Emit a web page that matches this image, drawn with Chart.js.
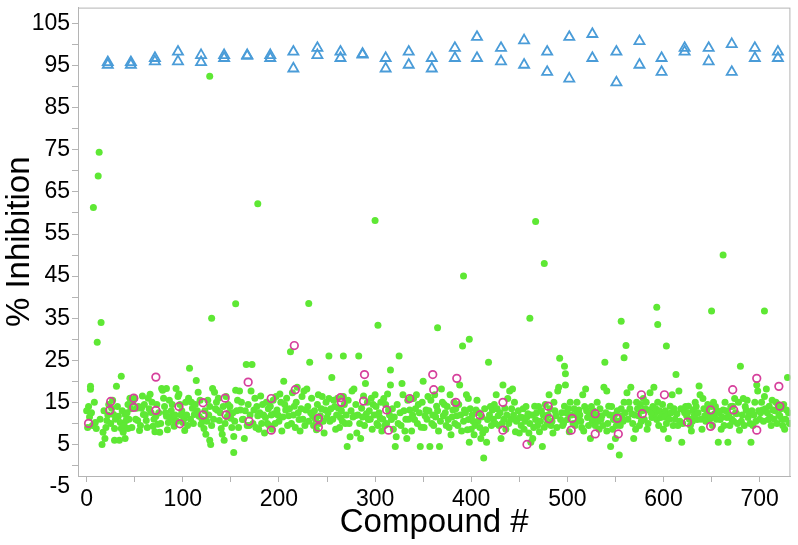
<!DOCTYPE html>
<html>
<head>
<meta charset="utf-8">
<script src="https://cdn.jsdelivr.net/npm/chart.js@4"></script>
<style>
body{margin:0;background:#fff}
</style>
</head>
<body>
<canvas id="chart" width="798" height="545"></canvas>
<script>
// [compound #, % inhibition]
const compounds=[
[4,18.8],[4,18.1],[2,14],[9,10.2],[10,8.8],[16,5],[17,7.9],[19,6.4],[21,10.7],[26,13.6],[28,12.1],[29,8.8],[29,6],[31,18.8],[36,21.2],[33,11.7],[35,10.2],[36,8.8],[38,7.9],[40,6.4],[34,6],[41,10.7],[43,8.8],[40,12.1],[45,16],[43,14.5],
[50,16],[52,13.6],[53,10.7],[55,8.3],[57,13.6],[59,12.1],[60,14.5],[62,10.7],[64,16],[66,16.9],[67,12.6],[69,9.3],[72,11.7],[74,9.8],[76,7.9],[78,18.3],[79,17.9],[83,18.3],[81,14],[83,11.7],[85,10.2],[86,15.5],[88,13],[90,10.7],[91,9.3],[93,18.3],[95,16.4],[97,14.5],[98,12],[100,10.2],
[102,8.3],[107,23.1],[109,15],[110,13.6],[112,12.1],[114,20.2],[116,17.4],[117,11.7],[119,9.8],[122,8.8],[124,7.4],[128,6],[129,5],[126,15.5],[128,14],[131,18.3],[133,17.4],[135,15],[136,13.1],[138,10.7],[140,8.8],[141,7.4],[143,6],[145,16.4],[147,14.5],[148,12.6],[150,11.2],[153,6.9],[153,3.1],[155,17.9],[157,15.5],
[159,17.7],[160,13.2],[162,10.9],[164,6.4],[166,24],[172,24],[169,9.5],[171,17.7],[174,13.2],[178,11.8],[179,8.6],[183,14.5],[185,7.7],[186,11.4],[188,10],[191,14.1],[193,8.6],[195,12.3],[197,16.4],[198,13.2],[200,10.5],
[202,15],[203,8.2],[205,20],[207,13.2],[209,9.5],[212,27],[210,11.8],[214,17.3],[216,14.1],[219,18.6],[221,10.9],[222,8.2],[224,16.4],[226,17.7],[228,13.2],[229,18.2],[232,24.5],[231,10.5],[235,11.8],[236,9.5],[240,14.5],[241,16.8],[243,11.8],[245,16.4],[247,7.7],[248,13.2],[250,11.4],
[252,26],[252,15.9],[253,10.5],[255,20.9],[257,15.5],[259,8.6],[262,13.6],[264,11.4],[267,26],[267,16.4],[269,10],[271,4.5],[272,15.5],[274,6.8],[276,17.7],[278,18.2],[279,11.8],[281,7.7],[283,26],[285,6.4],[286,13.6],[290,19.5],[291,12.3],[293,10.9],[297,8.6],[298,14.5],[300,16.8],
[302,10],[305,11.4],[307,8.2],[309,15.9],[310,9.5],[314,13.2],[316,22.7],[316,19.1],[317,10.9],[319,8.6],[321,4.5],[322,6.8],[324,10],[325,26],[328,19.5],[329,16.8],[331,8.2],[333,6.4],
[336,13.2],[338,8.2],[340,15.9],[341,10.9],[343,16.8],[345,14.5],[347,4.5],[348,9.1],[350,20],[352,11.8],[353,13.2],[355,16.4],[357,4.5],[359,10],[362,16.8],[364,14.1],[366,8.2],[367,4.5],[369,18.2],[371,11.8],[372,14.5],[374,9.5],[376,10.9],[378,16.8],[379,7.3],[381,13.2],[383,10],[385,11.8],[388,19.1],[390,8.2],[391,28.4],[393,13.2],[395,16.8],[397,15.9],[397,10.9],[398,5.5],[400,8.6],
[402,10.5],[403,7.3],[405,13.2],[407,10.5],[410,6.4],[412,7.7],[413,1.8],[416,5.5],[417,10.9],[418,24.5],[421,9.5],[422,13.2],[424,14.5],[426,16.8],[428,11.8],[429,9.5],[431,6.4],[433,19.1],[435,13.6],[436,8.6],[438,15.9],[440,17.7],[441,10.9],[443,18.2],[445,15],[447,10.5],[448,10.9],[450,7.7],
[452,9.5],[453,11.4],[455,8.6],[459,12.3],[460,7.7],[462,5.5],[464,6.4],[466,14.1],[467,10.9],[469,9.5],[474,4.5],[476,9.1],[478,11.4],[481,16.8],[483,9.5],[485,7.7],[486,15],[488,11.8],[490,17.7],[491,18.6],[492,25.5],[493,10.9],[495,9.5],[497,23.6],[497,14.1],[498,21.8],[498,19.1],[500,10.9],
[512,13.2],[514,10.5],[516,16.8],[517,8.2],[519,18.2],[521,11.4],[522,9.5],[524,6.4],[526,10.5],[529,9.5],[533,8.6],[536,11.8],[539,24.5],[538,18.6],[541,17.7],[541,8.2],[543,14.1],[545,4.5],[547,8.6],[548,10.9],[550,6.4],
[554,2.5],[555,9.5],[557,11.8],[559,25.6],[561,28.5],[559,15],[562,17.3],[564,15],[566,18.6],[567,12.3],[569,6.4],[571,8.6],[572,15],[574,11.8],[579,15.9],[583,8.6],[585,13.2],[586,17.3],[588,11.4],[590,18.6],[591,12.3],[593,10.9],[597,11.4],[600,8.6],
[603,28.4],[603,10],[605,6.4],[607,14.1],[609,16.8],[610,9.5],[613,21.6],[614,12.3],[616,17.7],[617,10.5],[619,5.5],[621,13.2],[624,11.8],[626,14.1],[628,9.5],[629,8.2],[631,13.2],[633,15],[635,10.9],[637,18.9],[638,16.8],[640,8.6],[641,15.9],[643,11.8],[645,13.2],[648,10.9],
[652,15],[653,12.3],[657,5.5],[659,10.9],[660,8.6],[662,13.2],[664,15],[666,11.4],[667,5.5],[669,9.5],[672,14.1],[674,15.9],[676,12.3],[678,15],[679,8.4],[680,23.6],[681,10.5],[683,15.9],[686,13.2],[688,11.4],[691,5.5],[693,9.5],[697,19.1],[698,17.7],
[702,15],[703,13.2],[705,16.4],[707,18.2],[709,10.9],[710,14.1],[712,9.5],[714,13.2],[717,15],[721,11.8],[724,9.5],[726,8.6],[728,13.2],[729,20.9],
[7,61.3],[12,68.8],[13,74.4],[15,34],[11,29.3],[128,92.5],[130,35],[155,38.4],[178,62.2],[231,38.5],[300,58.2],[303,33.3],[365,32.7],[392,45],[398,30],[461,35],[467,58],[476,48],[556,34.3],[593,37.6],[594,33.5],[650,36.7],[662,50],[705,36.7]
]

// dots inside the dense band, estimated where single dots can't be told apart
const bandCompounds=[
[0,13],[1,9],[3,11.5],[5,12.5],[6,9.5],[8,15],[14,11],[18,13],[20,9],[22,12],[23,14.5],[25,10],[27,15.5],[30,11],[32,14],[37,13],[39,9.5],[42,12.5],[44,11],[46,13.5],[47,9],[48,15],
[51,11],[54,14],[56,9.5],[58,16.5],[61,12],[63,9],[65,13.5],[68,15],[70,11],[71,8],[73,14.5],[75,12.5],[77,10],[80,16],[82,12.5],[84,8.5],[87,11.5],[89,14.5],[92,12],[94,10.5],[96,17],[99,13],
[101,11],[103,15],[104,12],[105,9.5],[106,16],[108,11],[111,10],[113,14.5],[115,13],[118,15.5],[120,11],[123,13],[125,10.5],[127,12],[130,9.5],[132,11],[134,13.5],[137,16],[139,12.5],[142,14],[144,10],[146,11.5],[149,14],
[151,9],[152,12.5],[154,10.5],[156,13],[158,9],[161,15],[163,11],[165,13],[167,9.5],[168,14.5],[170,12],[173,10],[175,16],[176,9],[177,14],[180,12.5],[181,16.5],[182,10],[184,12],[187,15],[189,13.5],[190,9.5],[192,12],[194,15.5],[196,10],[199,12],
[201,17],[204,11.5],[206,14.5],[208,16],[211,13.5],[213,10],[215,12],[217,9],[218,15],[220,12.5],[223,13.5],[225,11],[227,9.5],[230,14],[233,12.5],[234,16],[237,13],[238,11],[239,8.5],[242,10],[244,13.5],[246,10.5],[249,15],
[251,12.5],[254,13.5],[256,11],[258,14],[260,12],[261,16],[263,9],[265,13],[266,10.5],[268,14.5],[270,12],[273,10],[275,13],[277,11.5],[280,14.5],[282,12],[284,10],[287,11.5],[288,16.5],[289,9.5],[292,15],[294,13],[295,11],[296,16],[299,12],
[301,14],[303,9.5],[304,12.5],[306,15],[308,11],[311,14.5],[312,10],[313,17],[315,12],[318,13.5],[320,11.5],[323,14.5],[326,12.5],[327,9.5],[330,13],[332,11],[334,15.5],
[335,11],[337,16],[339,12],[342,13.5],[344,10],[346,12.5],[349,15],[351,9],[354,11],[356,13],[358,15.5],[360,12],[361,9.5],[363,11.5],[365,13],[368,10.5],[370,15],[373,12.5],[375,14],[377,9],[380,11.5],[382,15],[384,13.5],[386,9.5],[387,14.5],[389,12],[392,10.5],[394,12.5],[396,8.5],[399,13.5],
[401,12],[404,9.5],[406,15.5],[408,12.5],[409,9],[411,11.5],[414,13.5],[415,8.5],[419,12],[420,14],[423,11],[425,10],[427,13.5],[430,12.5],[432,10],[434,11],[437,12],[439,10],[442,13.5],[444,12],[446,8],[449,13],
[451,11.5],[454,13.5],[456,10.5],[457,14],[458,11.5],[461,10],[463,12],[465,9],[468,12.5],[470,14],[471,8],[472,10.5],[473,13],[475,12],[477,14.5],[479,10],[480,12],[482,13.5],[484,10.5],[487,13],[489,9],[494,12.5],[496,10],[499,12.5],
[501,13.5],[502,8],[503,15],[504,12],[506,10],[507,13.5],[508,9.5],[509,12],[510,15],[511,10.5],[513,12],[515,9],[518,14],[520,13],[523,12],[525,14],[527,13],[528,11],[530,12],[531,15],[532,10.5],[534,13.5],[535,11],[537,9.5],[540,12.5],[542,10],[544,12],[546,14],[549,12],
[551,9.5],[552,13],[553,10.5],[556,13.5],[558,10.5],[560,12.5],[563,11],[565,13.5],[568,10],[570,12],[573,13.5],[575,9.5],[576,14.5],[577,10.5],[578,13],[580,11],[581,13.5],[582,15],[584,10],[587,12.5],[589,14],[592,13.5],[594,15],[595,9.5],[596,13],[598,12],[599,14.5],
[601,11.5],[602,13],[604,12],[606,11],[608,12.5],[611,13.5],[612,11],[615,9.5],[618,13.5],[620,10],[622,12.5],[623,14],[625,12.5],[627,11],[630,10.5],[632,12],[634,14],[636,12.5],[639,11],[642,13.5],[644,10.5],[646,14.5],[647,12],[649,11.5],[650,14],
[651,9.5],[654,14],[655,11],[656,13],[658,12.5],[661,11.5],[663,9.5],[665,13],[668,12],[670,14],[671,11],[673,10.5],[675,12.5],[677,10],[682,12],[684,9.5],[685,14],[687,15.5],[689,12.5],[690,10],[692,13],[694,12],[695,15],[696,10.5],[699,13],
[700,11],[701,12.5],[704,10.5],[706,13.5],[708,12.5],[711,11.5],[713,15.5],[715,11],[716,13],[718,10],[719,14.5],[720,12],[722,13.5],[723,11],[725,14.5],[727,11],[730,12.5],[731,10]
]

// open magenta circles
const hits=[
[2,10],[25,15.2],[24,13.1],[49,16],[49,13.8],[72,13.1],[72,21],[96,14],[97,9.9],[121,14.9],[121,12],[144,16],[145,12],
[168,19.8],[169,10.5],[192,15.9],[192,8.4],[216,28.5],[217,18],[241,11.2],[241,9.1],[264,16.1],[265,15],[289,21.6],[288,15.3],[312,13.2],[314,8.4],
[336,15.9],[360,21.6],[361,18],[385,20.7],[384,15],[409,12],[433,15],[433,8.4],[458,5],[480,14.1],[481,11.1],[505,11.2],[504,8.4],
[529,12.3],[529,7.5],[552,11.2],[553,7.5],[577,16.8],[578,12.3],[601,16.8],[625,10.3],[649,13.2],[649,9.3],[672,18],[673,13.2],[697,20.7],[697,8.4],[720,18.8],[721,14.1]
]

// controls (triangles)
const controls=[
[22,95.8],[22,95.2],[46,95.8],[46,95.2],[71,96.8],[71,96],[95,98.3],[95,96],[119,97.5],[119,95.8],[143,97.5],[143,96.8],[167,97.5],[167,97.3],[191,97.5],[191,96.8],
[215,98.3],[215,94.3],[240,99.2],[240,97.5],[264,98.3],[264,96.8],[287,97.8],[287,97.6],[311,96.8],[311,94.3],[335,98.3],[335,95.2],[359,96.8],[359,94.3],[383,99.2],[383,96.8],
[406,101.8],[406,96.8],[431,99.2],[431,96],[455,101],[455,95.2],[479,98.3],[479,93.5],[502,101.8],[502,91.9],[526,102.5],[526,96.8],[551,98.3],[551,91],
[575,100.8],[575,95.2],[598,96.8],[598,93.5],[622,99.2],[622,98.3],[647,99.2],[647,96],[671,100.1],[671,93.5],[695,99.2],[695,96.8],[719,98.3],[719,96.8]
]

const xTicks=[0,50,100,150,200,250,300,350,400,450,500,550,600,650,700]
const xLabels=[0,100,200,300,400,500,600,700]
const yTicks=[-5,0,5,10,15,20,25,30,35,40,45,50,55,60,65,70,75,80,85,90,95,100,105]
const yLabels=[-5,5,15,25,35,45,55,65,75,85,95,105]
const yMin=-2.5,yMax=108.8

const pts=a=>a.map(p=>({x:p[0],y:p[1]}))
const axisGray="#b4b4b4"
const font={family:"'Liberation Sans', Arial, sans-serif",size:23}
const titleFont={family:"'Liberation Sans', Arial, sans-serif",size:33}

const frame={
id:"frame",
afterDatasetsDraw(chart){
const a=chart.chartArea
const c=chart.ctx
c.save()
c.strokeStyle=axisGray
c.lineWidth=1
c.strokeRect(a.left+0.5,a.top+0.5,a.right-a.left-1,a.bottom-a.top)
c.restore()
}
}

new Chart(document.getElementById("chart"),{
type:"scatter",
data:{
datasets:[
{
label:"Compounds",
data:pts(compounds.concat(bandCompounds)),
pointStyle:"circle",
pointRadius:3.5,
backgroundColor:"#5ee834",
borderWidth:0,
order:3
},
{
label:"Hits",
data:pts(hits),
pointStyle:"circle",
pointRadius:3.8,
backgroundColor:"rgba(0,0,0,0)",
borderColor:"#d6409c",
borderWidth:1.7,
order:2
},
{
label:"Controls",
data:pts(controls),
pointStyle:"triangle",
pointRadius:5.8,
backgroundColor:"rgba(0,0,0,0)",
borderColor:"#4a9cd8",
borderWidth:1.8,
order:1
}
]
},
options:{
responsive:false,
animation:false,
layout:{padding:{top:3,right:4,left:0,bottom:0}},
plugins:{legend:{display:false},tooltip:{enabled:false}},
scales:{
x:{
type:"linear",
min:-9,
max:732,
afterBuildTicks(s){s.ticks=xTicks.map(v=>({value:v}))},
afterFit(s){s.height=69;s.paddingLeft=0;s.paddingRight=0},
grid:{display:true,drawOnChartArea:false,drawTicks:true,tickLength:6,color:axisGray},
border:{display:true,color:axisGray},
ticks:{
font:font,color:"#000",padding:4,maxRotation:0,autoSkip:false,
callback:v=>xLabels.includes(v)?String(v):""
},
title:{display:true,text:"Compound #",color:"#000",font:titleFont,padding:{top:0,bottom:2}}
},
y:{
type:"linear",
min:yMin,
max:yMax,
afterBuildTicks(s){s.ticks=yTicks.map(v=>({value:v}))},
afterFit(s){s.width=78;s.paddingTop=0;s.paddingBottom=0},
grid:{
display:true,drawOnChartArea:false,drawTicks:true,tickLength:6,color:axisGray,
tickColor:ctx=>ctx.tick&&ctx.tick.value<yMin?"rgba(0,0,0,0)":axisGray
},
border:{display:true,color:axisGray},
ticks:{
font:font,color:"#000",padding:2,autoSkip:false,
callback:v=>yLabels.includes(v)?String(v):""
},
title:{display:true,text:"% Inhibition",color:"#000",font:titleFont,padding:{top:0,bottom:0}}
}
}
},
plugins:[frame]
})
</script>
</body>
</html>
